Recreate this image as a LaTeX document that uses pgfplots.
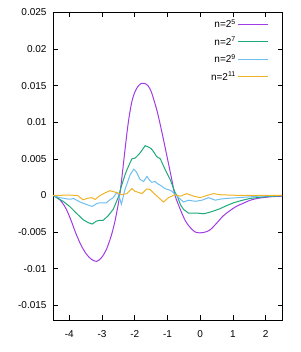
\documentclass[border=0pt]{standalone}
\usepackage{fontspec}
\setmainfont{Liberation Sans}
\usepackage{pgfplots}
\pgfplotsset{compat=1.18}
\definecolor{cA}{RGB}{160,60,230}
\definecolor{cB}{RGB}{30,170,120}
\definecolor{cC}{RGB}{110,190,240}
\definecolor{cD}{RGB}{240,180,40}
\begin{document}
\begin{tikzpicture}
\useasboundingbox (-53pt,-32pt) rectangle (247pt,320pt);
\begin{axis}[
  at={(0,0)}, anchor=south west,
  scale only axis, width=229pt, height=307.7pt,
  xmin=-4.5, xmax=2.5, ymin=-0.017, ymax=0.025,
  xtick={-4,-3,-2,-1,0,1,2},
  xticklabels={-4,-3,-2,-1,0,1,2},
  ytick={-0.015,-0.01,-0.005,0,0.005,0.01,0.015,0.02,0.025},
  yticklabels={-0.015,-0.01,-0.005,0,0.005,0.01,0.015,0.02,0.025},
  scaled y ticks=false,
  tick align=inside, major tick length=4.5pt,
  tick style={black, line width=0.6pt},
  axis line style={black, line width=0.7pt},
  xticklabel style={yshift=-7pt, font=\fontsize{10}{12}\selectfont},
  yticklabel style={xshift=-3pt, font=\fontsize{10}{12}\selectfont},
  legend plot pos=right,
  legend cell align=right,
  legend style={draw=none, fill=none, at={(axis description cs:1,1)}, anchor=north east,
    xshift=-13pt, yshift=-5pt, inner sep=0pt, row sep=3.5pt,
    font=\fontsize{10}{12}\selectfont},
  legend image code/.code={\draw[#1, line width=1pt] (0pt,0pt) -- (30pt,0pt);},
  every axis plot/.append style={line width=1pt, no markers},
]
\addplot[cA, smooth, tension=0.5] coordinates {
(-4.5,0) (-4.4,-0.0002) (-4.29,-0.0006) (-4.2,-0.0011) (-4.09,-0.0019) (-3.94,-0.0035)
(-3.79,-0.0053) (-3.63,-0.0069) (-3.48,-0.0080) (-3.33,-0.0087) (-3.17,-0.0090)
(-3.02,-0.0085) (-2.87,-0.0074) (-2.72,-0.0055) (-2.61,-0.0036) (-2.51,-0.0013)
(-2.45,0.0004) (-2.4,0.0022) (-2.3,0.0062) (-2.2,0.0099) (-2.1,0.0126) (-2.0,0.0141)
(-1.9,0.0149) (-1.8,0.0153) (-1.71,0.0153) (-1.6,0.0150) (-1.5,0.0142) (-1.4,0.0128)
(-1.3,0.0112) (-1.15,0.0082) (-1.0,0.0050) (-0.87,0.0022) (-0.77,0.0000) (-0.6,-0.0020)
(-0.45,-0.0035) (-0.3,-0.0044) (-0.15,-0.0050) (0.0,-0.0051) (0.15,-0.0050) (0.3,-0.0047)
(0.5,-0.0038) (0.7,-0.0028) (0.9,-0.0021) (1.1,-0.0015) (1.3,-0.0011) (1.5,-0.0007)
(1.75,-0.0004) (2.0,-0.00025) (2.25,-0.00015) (2.5,-0.0001)
};
\addlegendentry{n=2\textsuperscript{5}}
\addplot[cB] coordinates {
(-4.5,0) (-4.35,-0.0004) (-4.19,-0.0008) (-3.99,-0.0015) (-3.79,-0.0024) (-3.58,-0.0033)
(-3.43,-0.0037) (-3.30,-0.0039) (-3.17,-0.0035) (-3.07,-0.0034) (-2.97,-0.0034)
(-2.82,-0.0028) (-2.66,-0.0019) (-2.51,-0.0003) (-2.4,0.0014) (-2.3,0.0028) (-2.24,0.0035)
(-2.09,0.0050) (-1.99,0.0051) (-1.9,0.0055) (-1.84,0.0058) (-1.68,0.0068) (-1.58,0.0066)
(-1.5,0.0064) (-1.43,0.0060) (-1.33,0.0053) (-1.22,0.0050) (-1.07,0.0035) (-0.92,0.0022)
(-0.77,0.0004) (-0.71,0.0000) (-0.6,-0.0013) (-0.51,-0.0019) (-0.36,-0.0024) (-0.2,-0.0024)
(-0.1,-0.0024) (0.1,-0.0025) (0.2,-0.0024) (0.36,-0.0022) (0.61,-0.0018) (0.8,-0.0014)
(1.02,-0.0010) (1.25,-0.0007) (1.53,-0.0004) (2.04,-0.00015) (2.5,-0.00005)
};
\addlegendentry{n=2\textsuperscript{7}}
\addplot[cC] coordinates {
(-4.5,0) (-4.29,-0.0003) (-4.03,-0.0005) (-3.95,-0.0005) (-3.88,-0.0004) (-3.67,-0.0009)
(-3.47,-0.00125) (-3.3,-0.0015) (-3.16,-0.0011) (-3.07,-0.0010) (-2.87,-0.0010)
(-2.76,-0.0006) (-2.66,-0.0003) (-2.55,0.0004) (-2.49,0.0001) (-2.41,-0.0012)
(-2.3,0.0008) (-2.14,0.00285)
(-2.03,0.0036) (-1.95,0.0032) (-1.84,0.0022) (-1.73,0.0019) (-1.63,0.0026) (-1.55,0.0021)
(-1.48,0.0018) (-1.38,0.0019) (-1.3,0.0016) (-1.17,0.00125) (-1.07,0.0009) (-0.97,0.0008)
(-0.87,0.0006) (-0.76,0.0001) (-0.66,-0.0003) (-0.51,-0.0009) (-0.36,-0.00065)
(-0.15,-0.0008) (0.05,-0.00065) (0.26,-0.0003) (0.46,-0.00065) (0.61,-0.0005)
(0.82,-0.0004) (1.33,-0.00025) (1.8,-0.0001) (2.5,0)
};
\addlegendentry{n=2\textsuperscript{9}}
\addplot[cD] coordinates {
(-4.5,0) (-4.0,0.00005) (-3.75,0.0000) (-3.58,-0.0006) (-3.45,-0.0004) (-3.32,-0.0003)
(-3.21,-0.00055) (-3.06,0.0000) (-2.91,0.00035) (-2.76,0.00065) (-2.6,0.00045)
(-2.5,0.0003) (-2.40,0.0001) (-2.24,0.00025) (-2.09,0.00095) (-1.99,0.00055) (-1.94,0.0005)
(-1.78,0.00025) (-1.63,0.0009) (-1.53,0.0008) (-1.43,0.00035) (-1.27,-0.0003)
(-1.12,-0.0009) (-0.97,-0.0003) (-0.77,0.0001) (-0.61,-0.0001) (-0.41,0.00025)
(-0.2,-0.0001) (0.0,-0.0003) (0.2,0.0000) (0.41,0.00025) (0.61,0.0001) (1.02,0.00003)
(1.5,0.0) (2.5,0.0)
};
\addlegendentry{n=2\textsuperscript{11}}
\end{axis}
\end{tikzpicture}
\end{document}
